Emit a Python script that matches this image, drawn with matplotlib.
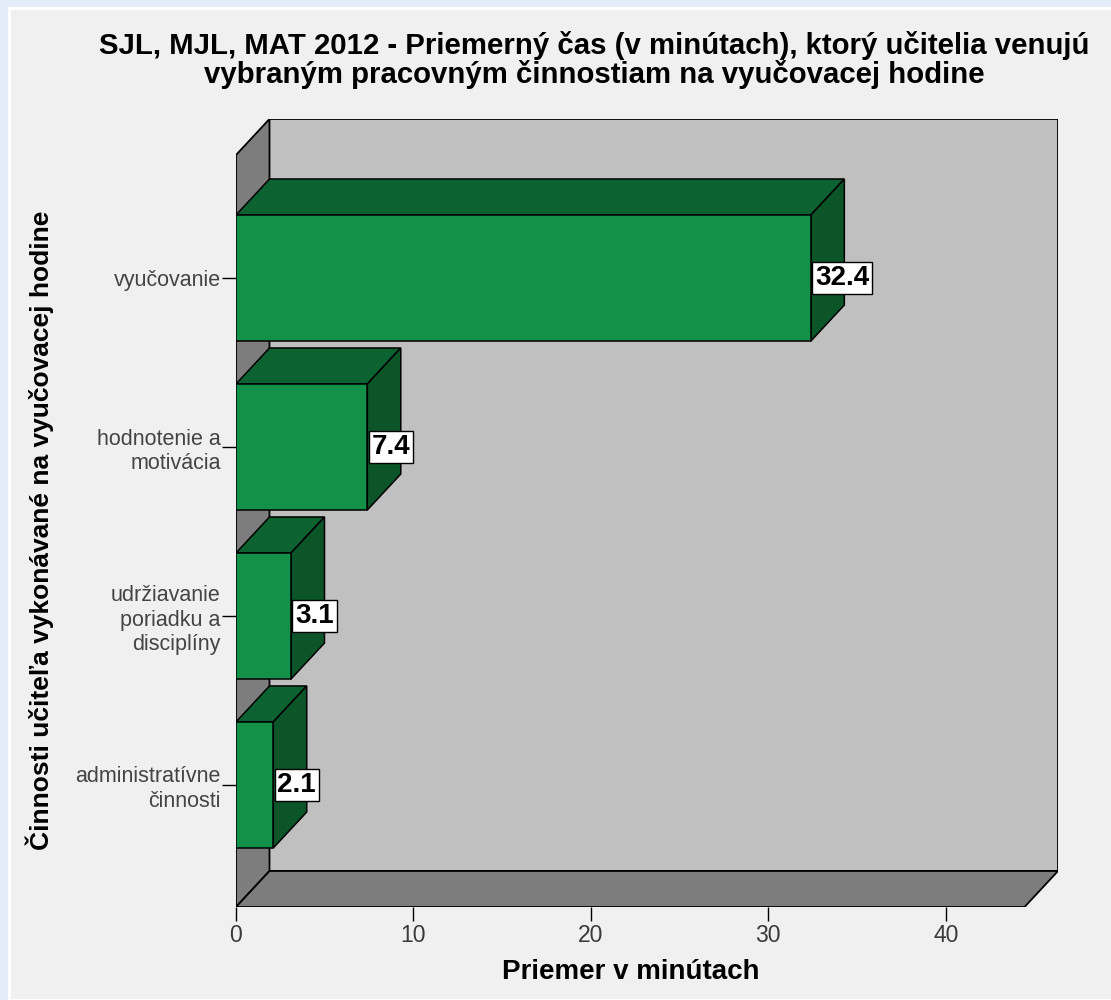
import matplotlib.pyplot as plt
from matplotlib.patches import Polygon, Rectangle

# data
categories = ['vyučovanie', 'hodnotenie a\nmotivácia',
              'udržiavanie\nporiadku a\ndisciplíny', 'administratívne\nčinnosti']
means = [32.4, 7.4, 3.1, 2.1]
x_ticks = [0, 10, 20, 30, 40]

title = ('SJL, MJL, MAT 2012 - Priemerný čas (v minútach), ktorý učitelia venujú\n'
         'vybraným pracovným činnostiam na vyučovacej hodine')
x_label = 'Priemer v minútach'
y_label = 'Činnosti učiteľa vykonávané na vyučovacej hodine'

plt.rcParams['font.family'] = ['Liberation Sans', 'DejaVu Sans']

# #
# Layout settings (3d box look)
x_max = 46.33
y_top, y_bottom = -0.941, 3.722
dx, dy = 1.887, -0.213   # depth offset
half_h = 0.373           # half bar thickness
col_front, col_top, col_side = '#149149', '#0c6230', '#0b5529'
col_wall, col_back = '#7d7d7d', '#c0c0c0'

fig = plt.figure(figsize=(11.11, 10), dpi=100, facecolor='#e4ecfa')
fig.patches.append(Rectangle((9 / 1111, 0), 1, 992 / 1000, transform=fig.transFigure,
                             fc='#f0f0f0', ec='white', lw=2, zorder=-10))

ax = fig.add_axes([236 / 1111, 93 / 1000, 822 / 1111, 788 / 1000])
ax.set_facecolor('none')
ax.set_xlim(0, x_max)
ax.set_ylim(y_bottom, y_top)
for s in ax.spines.values():
    s.set_visible(False)

# back wall, left wall, floor
ax.add_patch(Polygon([(dx, y_top), (x_max, y_top), (x_max, y_bottom + dy), (dx, y_bottom + dy)],
                     closed=True, fc=col_back, ec='black', lw=1.3, zorder=1))
ax.add_patch(Polygon([(0, y_bottom), (0, y_top - dy), (dx, y_top), (dx, y_bottom + dy)],
                     closed=True, fc=col_wall, ec='black', lw=1.3, zorder=1))
ax.add_patch(Polygon([(0, y_bottom), (dx, y_bottom + dy), (x_max, y_bottom + dy), (x_max - dx, y_bottom)],
                     closed=True, fc=col_wall, ec='black', lw=1.3, zorder=1))

# bars
for i, v in enumerate(means):
    top, bot = i - half_h, i + half_h
    ax.add_patch(Polygon([(0, top), (v, top), (v + dx, top + dy), (dx, top + dy)],
                         closed=True, fc=col_top, ec='black', lw=1.1, zorder=2))
    ax.add_patch(Polygon([(v, top), (v + dx, top + dy), (v + dx, bot + dy), (v, bot)],
                         closed=True, fc=col_side, ec='black', lw=1.1, zorder=2))
    ax.add_patch(Rectangle((0, top), v, 2 * half_h, fc=col_front, ec='black', lw=1.1, zorder=3))
    ax.annotate(f'{v:.1f}', xy=(v, i), xytext=(3, 0), textcoords='offset points',
                ha='left', va='center', fontsize=20, fontweight='bold', zorder=5,
                bbox=dict(boxstyle='square,pad=0.1', fc='white', ec='black', lw=1))

# axes ticks and labels
ax.set_xticks(x_ticks)
ax.set_yticks(range(len(categories)), categories)
ax.tick_params(axis='x', length=10, width=1, labelsize=16.5, labelcolor='#3a3a3a', pad=2)
ax.tick_params(axis='y', length=10, width=1, labelsize=15.5, labelcolor='#444444', pad=1)
ax.set_xlabel(x_label, fontsize=20, fontweight='bold')
ax.xaxis.set_label_coords(0.4805, -0.066)
ax.set_ylabel(y_label, fontsize=19, fontweight='bold')
ax.yaxis.set_label_coords(-0.222, 0.478)

fig.text(0.535, 0.94, title, ha='center', va='center', fontsize=21.2,
         fontweight='bold', linespacing=1.02)

plt.savefig('out.png', dpi=100, facecolor=fig.get_facecolor())
